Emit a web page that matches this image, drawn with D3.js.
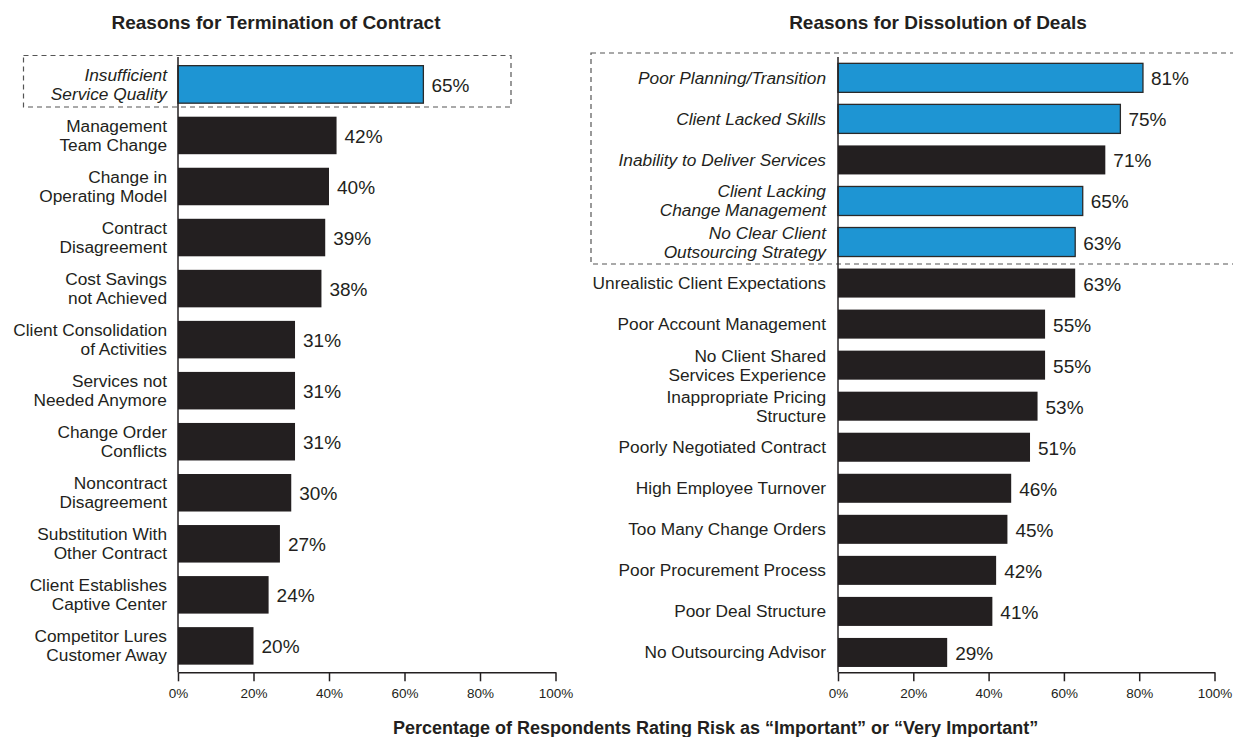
<!DOCTYPE html>
<html>
<head>
<meta charset="utf-8">
<script src="https://cdn.jsdelivr.net/npm/d3@7"></script>
<style>
  html, body { margin: 0; padding: 0; background: #fff; }
  svg { display: block; font-family: "Liberation Sans", Arial, Helvetica, sans-serif; }
</style>
</head>
<body>
<svg id="chart" width="1233" height="737"></svg>
<script>
// ---- Data ----
const leftTitle = "Reasons for Termination of Contract";
const leftCategories = [
  ["Insufficient", "Service Quality"],
  ["Management", "Team Change"],
  ["Change in", "Operating Model"],
  ["Contract", "Disagreement"],
  ["Cost Savings", "not Achieved"],
  ["Client Consolidation", "of Activities"],
  ["Services not", "Needed Anymore"],
  ["Change Order", "Conflicts"],
  ["Noncontract", "Disagreement"],
  ["Substitution With", "Other Contract"],
  ["Client Establishes", "Captive Center"],
  ["Competitor Lures", "Customer Away"]
];
const leftValues = [65, 42, 40, 39, 38, 31, 31, 31, 30, 27, 24, 20];
const leftHighlightBar = [true, false, false, false, false, false, false, false, false, false, false, false];
const leftItalic = [true, false, false, false, false, false, false, false, false, false, false, false];

const rightTitle = "Reasons for Dissolution of Deals";
const rightCategories = [
  ["Poor Planning/Transition"],
  ["Client Lacked Skills"],
  ["Inability to Deliver Services"],
  ["Client Lacking", "Change Management"],
  ["No Clear Client", "Outsourcing Strategy"],
  ["Unrealistic Client Expectations"],
  ["Poor Account Management"],
  ["No Client Shared", "Services Experience"],
  ["Inappropriate Pricing", "Structure"],
  ["Poorly Negotiated Contract"],
  ["High Employee Turnover"],
  ["Too Many Change Orders"],
  ["Poor Procurement Process"],
  ["Poor Deal Structure"],
  ["No Outsourcing Advisor"]
];
const rightValues = [81, 75, 71, 65, 63, 63, 55, 55, 53, 51, 46, 45, 42, 41, 29];
const rightHighlightBar = [true, true, false, true, true, false, false, false, false, false, false, false, false, false, false];
const rightItalic = [true, true, true, true, true, false, false, false, false, false, false, false, false, false, false];

const tickValues = [0, 20, 40, 60, 80, 100];
const xAxisTitle = "Percentage of Respondents Rating Risk as \u201CImportant\u201D or \u201CVery Important\u201D";

// ---- Style ----
const BLUE = "#1e95d3";
const DARK = "#231f20";
const TEXT = "#231f20";

const svg = d3.select("#chart");

function drawPanel(opt) {
  const g = svg.append("g");
  const n = opt.values.length;
  const x = d3.scaleLinear().domain([0, 100]).range([opt.x0, opt.x1]);
  const y = d3.scaleBand()
    .domain(d3.range(n))
    .range([58, 672.3])
    .paddingInner(opt.padInner)
    .paddingOuter(opt.padOuter);

  // title
  g.append("text")
    .attr("x", opt.titleX)
    .attr("y", 29)
    .attr("text-anchor", "middle")
    .attr("font-weight", "bold")
    .attr("font-size", "19px")
    .attr("fill", TEXT)
    .text(opt.title);

  // highlight box
  g.append("rect")
    .attr("x", opt.box[0])
    .attr("y", opt.box[1])
    .attr("width", opt.box[2] - opt.box[0])
    .attr("height", opt.box[3] - opt.box[1])
    .attr("fill", "none")
    .attr("stroke", "#555")
    .attr("stroke-width", 1.2)
    .attr("stroke-dasharray", "5,4");

  // bars
  g.selectAll("rect.bar")
    .data(opt.values)
    .join("rect")
    .attr("class", "bar")
    .attr("x", x(0))
    .attr("y", (d, i) => y(i))
    .attr("width", d => x(d) - x(0))
    .attr("height", y.bandwidth())
    .attr("fill", (d, i) => opt.highlight[i] ? BLUE : DARK)
    .attr("stroke", (d, i) => opt.highlight[i] ? "#2a2a2a" : "none")
    .attr("stroke-width", 1.3);

  // value labels
  g.selectAll("text.val")
    .data(opt.values)
    .join("text")
    .attr("class", "val")
    .attr("x", d => x(d) + 8)
    .attr("y", (d, i) => y(i) + y.bandwidth() / 2 + 7.5)
    .attr("font-size", "19px")
    .attr("fill", TEXT)
    .text(d => d + "%");

  // category labels
  const lh = 19;
  const labels = g.selectAll("text.cat")
    .data(opt.categories)
    .join("text")
    .attr("class", "cat")
    .attr("text-anchor", "end")
    .attr("font-size", "17.3px")
    .attr("font-style", (d, i) => opt.italic[i] ? "italic" : "normal")
    .attr("fill", TEXT)
    .attr("transform", (d, i) => `translate(${x(0) - opt.labelGap},${y(i) + y.bandwidth() / 2})`);
  labels.each(function (lines) {
    const t = d3.select(this);
    const off = -(lines.length - 1) * lh / 2 + 6;
    lines.forEach((s, k) => {
      t.append("tspan").attr("x", 0).attr("y", off + k * lh).text(s);
    });
  });

  // vertical axis line
  g.append("line")
    .attr("x1", x(0)).attr("x2", x(0))
    .attr("y1", 57).attr("y2", 672.3)
    .attr("stroke", DARK).attr("stroke-width", 1.5);

  // bottom axis
  const ax = g.append("g")
    .attr("transform", "translate(0,672.3)")
    .call(d3.axisBottom(x).tickValues(tickValues).tickFormat(d => d + "%")
      .tickSize(9).tickSizeOuter(0).tickPadding(7));
  ax.select(".domain").attr("stroke", DARK).attr("stroke-width", 1.5);
  ax.selectAll(".tick line").attr("stroke", DARK).attr("stroke-width", 1.5);
  ax.selectAll(".tick text")
    .attr("font-size", "13.5px")
    .attr("font-family", "'Liberation Sans', Arial, Helvetica, sans-serif")
    .attr("fill", TEXT);
}

drawPanel({
  title: leftTitle, titleX: 276,
  categories: leftCategories, values: leftValues,
  highlight: leftHighlightBar, italic: leftItalic,
  x0: 178, x1: 555.5, padInner: 0.265, padOuter: 0.15,
  labelGap: 11,
  box: [23.5, 55.5, 511, 107]
});

drawPanel({
  title: rightTitle, titleX: 938,
  categories: rightCategories, values: rightValues,
  highlight: rightHighlightBar, italic: rightItalic,
  x0: 838, x1: 1214.5, padInner: 0.293, padOuter: 0.13,
  labelGap: 12,
  box: [591, 53, 1245, 264]
});

svg.append("text")
  .attr("x", 393)
  .attr("y", 734)
  .attr("font-weight", "bold")
  .attr("font-size", "18px")
  .attr("fill", TEXT)
  .text(xAxisTitle);
</script>
</body>
</html>
